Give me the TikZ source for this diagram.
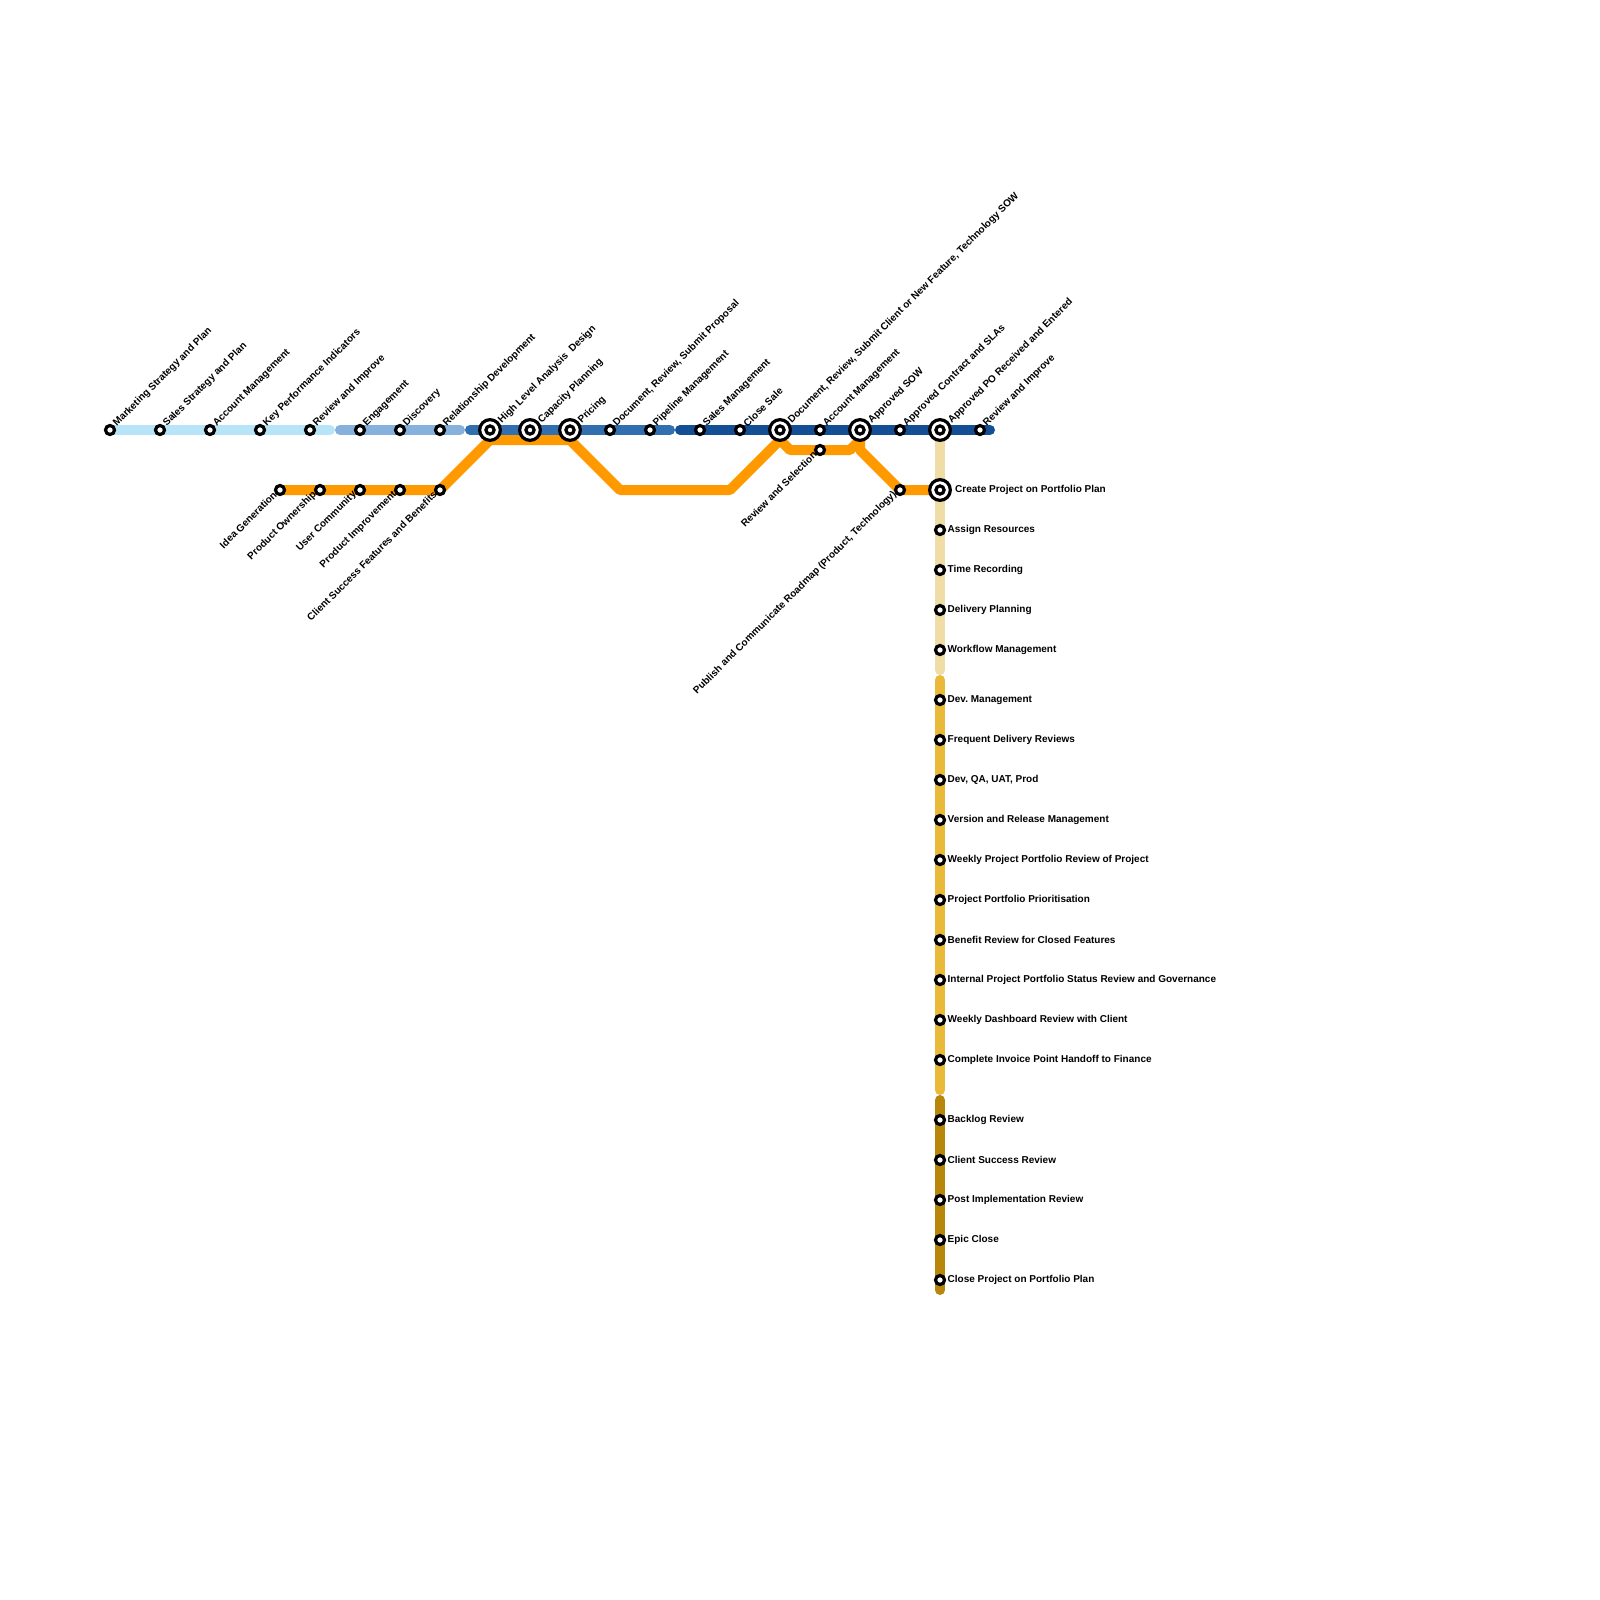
\documentclass[tikz,border=0pt]{standalone}
\usepackage{fontspec}
\setmainfont{Liberation Sans}
\usetikzlibrary{backgrounds}
\frenchspacing
\definecolor{lineA}{HTML}{B8E4F7}
\definecolor{lineB}{HTML}{85B1DC}
\definecolor{lineC}{HTML}{326FB0}
\definecolor{lineD}{HTML}{144F95}
\definecolor{lineO}{HTML}{FF9900}
\definecolor{lineT}{HTML}{F0DCA5}
\definecolor{lineG}{HTML}{EBB938}
\definecolor{lineK}{HTML}{B8860B}
\tikzset{
  x=1pt,y=-1pt,
  metro/.style={line width=10pt,line cap=round,line join=round},
  orange line/.style={metro,color=lineO,line cap=butt,line join=bevel},
  stn/.style={circle,draw=black,fill=white,line width=3.2pt,inner sep=0pt,outer sep=0pt,minimum size=9pt},
  hub/.style={stn,minimum size=20.7pt,path picture={\draw[black,line width=3.2pt] (path picture bounding box.center) circle (4.1pt);}},
  txt/.style={font=\bfseries\fontsize{10}{11}\selectfont,text=black,inner sep=0pt},
  up/.style={txt,rotate=45,anchor=west},
  down/.style={txt,rotate=45,anchor=east},
  side/.style={txt,anchor=west},
}
\begin{document}
\begin{tikzpicture}
\useasboundingbox (0,0) rectangle (1600,1600);
% top row stations
\node[stn] (a1) at (110,430) {};
\node[stn] (a2) at (160,430) {};
\node[stn] (a3) at (210,430) {};
\node[stn] (a4) at (260,430) {};
\node[stn] (a5) at (310,430) {};
\node[stn] (b1) at (360,430) {};
\node[stn] (b2) at (400,430) {};
\node[stn] (b3) at (440,430) {};
\node[hub] (c1) at (490,430) {};
\node[hub] (c2) at (530,430) {};
\node[hub] (c3) at (570,430) {};
\node[stn] (c4) at (610,430) {};
\node[stn] (c5) at (650,430) {};
\node[stn] (d1) at (700,430) {};
\node[stn] (d2) at (740,430) {};
\node[hub] (d3) at (780,430) {};
\node[stn] (d4) at (820,430) {};
\node[hub] (d5) at (860,430) {};
\node[stn] (d6) at (900,430) {};
\node[hub] (d7) at (940,430) {};
\node[stn] (d8) at (980,430) {};
% orange row stations
\node[stn] (o1) at (280,490) {};
\node[stn] (o2) at (320,490) {};
\node[stn] (o3) at (360,490) {};
\node[stn] (o4) at (400,490) {};
\node[stn] (o5) at (440,490) {};
\node[stn] (o6) at (820,450) {};
\node[stn] (o7) at (900,490) {};
% vertical stations
\node[hub] (t1) at (940,490) {};
\node[stn] (t2) at (940,530) {};
\node[stn] (t3) at (940,570) {};
\node[stn] (t4) at (940,610) {};
\node[stn] (t5) at (940,650) {};
\node[stn] (g1) at (940,700) {};
\node[stn] (g2) at (940,740) {};
\node[stn] (g3) at (940,780) {};
\node[stn] (g4) at (940,820) {};
\node[stn] (g5) at (940,860) {};
\node[stn] (g6) at (940,900) {};
\node[stn] (g7) at (940,940) {};
\node[stn] (g8) at (940,980) {};
\node[stn] (g9) at (940,1020) {};
\node[stn] (g10) at (940,1060) {};
\node[stn] (k1) at (940,1120) {};
\node[stn] (k2) at (940,1160) {};
\node[stn] (k3) at (940,1200) {};
\node[stn] (k4) at (940,1240) {};
\node[stn] (k5) at (940,1280) {};
% line ends and bends
\coordinate (abEnd) at (330,430);
\coordinate (bBeg) at (340,430);
\coordinate (bEnd) at (460,430);
\coordinate (cBeg) at (470,430);
\coordinate (cEnd) at (670,430);
\coordinate (dBeg) at (680,430);
\coordinate (dEnd) at (990,430);
\coordinate (tEnd) at (940,670);
\coordinate (gBeg) at (940,680);
\coordinate (gEnd) at (940,1090);
\coordinate (kBeg) at (940,1100);
\coordinate (kEnd) at (940,1290);
\coordinate (p1) at (490,440);
\coordinate (p2) at (570,440);
\coordinate (p3) at (620,490);
\coordinate (p4) at (730,490);
\coordinate (p5) at (780,440);
\coordinate (p6) at (790,450);
\coordinate (p7) at (850,450);
\coordinate (p8) at (860,440);
\coordinate (p9) at (860,450);
\begin{scope}[on background layer]
\draw[metro,lineT] (d7.center) -- (tEnd);
\draw[metro,lineG] (gBeg) -- (gEnd);
\draw[metro,lineK] (kBeg) -- (kEnd);
\draw[metro,lineA] (a1.center) -- (abEnd);
\draw[metro,lineB] (bBeg) -- (bEnd);
\draw[metro,lineC] (cBeg) -- (cEnd);
\draw[metro,lineD] (dBeg) -- (dEnd);
\draw[orange line] (o1.center) -- (o5.center) -- (p1) -- (p2) -- (p3) -- (p4) -- (p5) -- (p6) -- (p7) -- (p8);
\draw[orange line] (p8) -- (p9) -- (o7.center) -- (t1.center);
\end{scope}
% upper labels
\node[up] (la1) at ([shift={(5,-5)}]a1.center) {Marketing Strategy and Plan};
\node[up] (la2) at ([shift={(5,-5)}]a2.center) {Sales Strategy and Plan};
\node[up] (la3) at ([shift={(5,-5)}]a3.center) {Account Management};
\node[up] (la4) at ([shift={(5,-5)}]a4.center) {Key Performance Indicators};
\node[up] (la5) at ([shift={(5,-5)}]a5.center) {Review and Improve};
\node[up] (lb1) at ([shift={(5,-5)}]b1.center) {Engagement};
\node[up] (lb2) at ([shift={(5,-5)}]b2.center) {Discovery};
\node[up] (lb3) at ([shift={(5,-5)}]b3.center) {Relationship Development};
\node[up] (lc1) at ([shift={(10,-8)}]c1.center) {High Level Analysis\ \ Design};
\node[up] (lc2) at ([shift={(10,-8)}]c2.center) {Capacity Planning};
\node[up] (lc3) at ([shift={(10,-8)}]c3.center) {Pricing};
\node[up] (lc4) at ([shift={(5,-5)}]c4.center) {Document, Review, Submit Proposal};
\node[up] (lc5) at ([shift={(5,-5)}]c5.center) {Pipeline Management};
\node[up] (ld1) at ([shift={(5,-5)}]d1.center) {Sales Management};
\node[up] (ld2) at ([shift={(5,-5)}]d2.center) {Close Sale};
\node[up] (ld3) at ([shift={(10,-8)}]d3.center) {Document, Review, Submit Client or New Feature, Technology SOW};
\node[up] (ld4) at ([shift={(5,-5)}]d4.center) {Account Management};
\node[up] (ld5) at ([shift={(10,-8)}]d5.center) {Approved SOW};
\node[up] (ld6) at ([shift={(5,-5)}]d6.center) {Approved Contract and SLAs};
\node[up] (ld7) at ([shift={(10,-8)}]d7.center) {Approved PO Received and Entered};
\node[up] (ld8) at ([shift={(5,-5)}]d8.center) {Review and Improve};
% lower labels
\node[down] (lo1) at ([shift={(-5,3)}]o1.center) {Idea Generation};
\node[down] (lo2) at ([shift={(-5,3)}]o2.center) {Product Ownership};
\node[down] (lo3) at ([shift={(-5,3)}]o3.center) {User Community};
\node[down] (lo4) at ([shift={(-5,3)}]o4.center) {Product Improvement};
\node[down] (lo5) at ([shift={(-5,3)}]o5.center) {Client Success Features and Benefits};
\node[down] (lo6) at ([shift={(-5,3)}]o6.center) {Review and Selection};
\node[down] (lo7) at ([shift={(-5,3)}]o7.center) {Publish and Communicate Roadmap (Product, Technology)};
% side labels
\node[side] (lt1) at ([shift={(15,0)}]t1.center) {Create Project on Portfolio Plan};
\node[side] (lt2) at ([shift={(7.5,0)}]t2.center) {Assign Resources};
\node[side] (lt3) at ([shift={(7.5,0)}]t3.center) {Time Recording};
\node[side] (lt4) at ([shift={(7.5,0)}]t4.center) {Delivery Planning};
\node[side] (lt5) at ([shift={(7.5,0)}]t5.center) {Workflow Management};
\node[side] (lg1) at ([shift={(7.5,0)}]g1.center) {Dev. Management};
\node[side] (lg2) at ([shift={(7.5,0)}]g2.center) {Frequent Delivery Reviews};
\node[side] (lg3) at ([shift={(7.5,0)}]g3.center) {Dev, QA, UAT, Prod};
\node[side] (lg4) at ([shift={(7.5,0)}]g4.center) {Version and Release Management};
\node[side] (lg5) at ([shift={(7.5,0)}]g5.center) {Weekly Project Portfolio Review of Project};
\node[side] (lg6) at ([shift={(7.5,0)}]g6.center) {Project Portfolio Prioritisation};
\node[side] (lg7) at ([shift={(7.5,0)}]g7.center) {Benefit Review for Closed Features};
\node[side] (lg8) at ([shift={(7.5,0)}]g8.center) {Internal Project Portfolio Status Review and Governance};
\node[side] (lg9) at ([shift={(7.5,0)}]g9.center) {Weekly Dashboard Review with Client};
\node[side] (lg10) at ([shift={(7.5,0)}]g10.center) {Complete Invoice Point Handoff to Finance};
\node[side] (lk1) at ([shift={(7.5,0)}]k1.center) {Backlog Review};
\node[side] (lk2) at ([shift={(7.5,0)}]k2.center) {Client Success Review};
\node[side] (lk3) at ([shift={(7.5,0)}]k3.center) {Post Implementation Review};
\node[side] (lk4) at ([shift={(7.5,0)}]k4.center) {Epic Close};
\node[side] (lk5) at ([shift={(7.5,0)}]k5.center) {Close Project on Portfolio Plan};
\end{tikzpicture}
\end{document}
